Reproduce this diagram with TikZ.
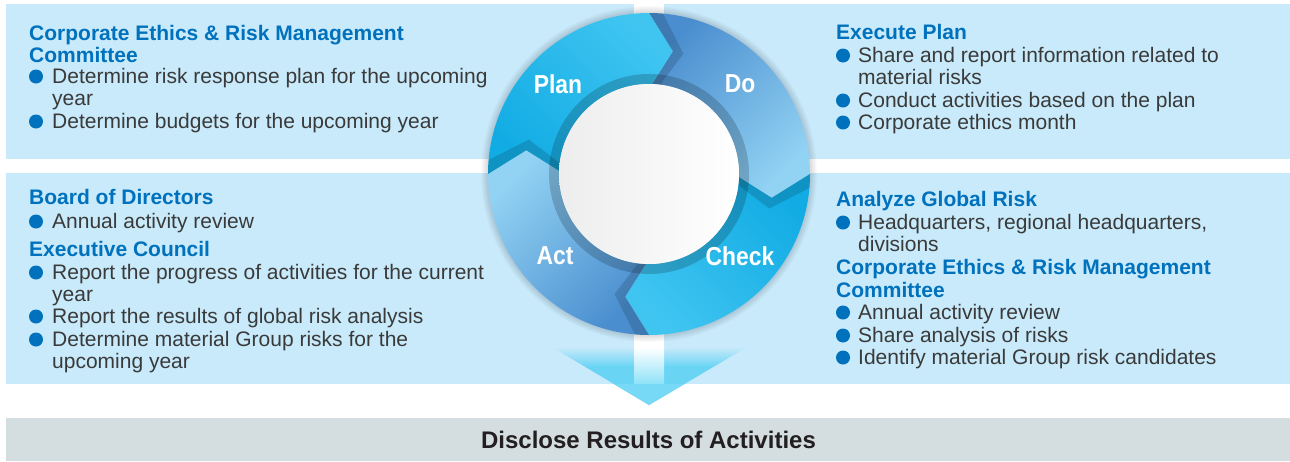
\documentclass[tikz,border=0pt]{standalone}
\usepackage{graphicx}
\usepackage{fontspec}
\setmainfont{Liberation Sans}
\usetikzlibrary{calc}
\definecolor{boxC}{HTML}{C8EAFA}
\definecolor{headC}{HTML}{0071BC}
\definecolor{bodyC}{HTML}{3A3A3A}
\definecolor{barC}{HTML}{D4DDE0}
\definecolor{arrC}{HTML}{6AD4F5}
\definecolor{arrL}{HTML}{8EE2F8}
\definecolor{arrLow}{HTML}{78D9F6}
\definecolor{cyanD}{HTML}{12ACE4}
\definecolor{cyanL}{HTML}{40C5F1}
\definecolor{blueD}{HTML}{4A8ECF}
\definecolor{blueL}{HTML}{92D2F3}
\definecolor{titleC}{HTML}{231F20}
\pgfdeclareverticalshading{arrsh}{100bp}{color(0bp)=(arrC); color(25bp)=(arrC); color(58bp)=(arrC); color(75bp)=(boxC); color(100bp)=(boxC)}
\tikzset{
  panel/.style={fill=boxC, draw=none},
  head/.style={anchor=base west, inner sep=0pt, font=\fontsize{21}{25}\selectfont\bfseries, text=headC},
  body/.style={anchor=base west, inner sep=0pt, font=\fontsize{21}{25}\selectfont, text=bodyC},
  dot/.style={circle, fill=headC, minimum size=14pt, inner sep=0pt},
  phase/.style={font=\fontsize{26}{30}\selectfont\bfseries, text=white, inner sep=0pt},
}
\newcommand\lbul[3]{\node[dot] (d#1) at (36,#2-6.5) {}; \node[body] (t#1) at (52,#2) {#3};}
\newcommand\rbul[3]{\node[dot] (d#1) at (843,#2-6.5) {}; \node[body] (t#1) at (858,#2) {#3};}
\newcommand\ringseg[3]{\shade[#3] (#1:161pt) arc[start angle=#1, end angle=#2, radius=161pt] -- (#2-11:125pt) -- (#2-2:90pt) arc[start angle=#2-2, end angle=#1-2, radius=90pt] -- (#1-11:125pt) -- cycle;}
\newcommand\ringshd[1]{\fill[black, opacity=0.14] (#1:161pt) -- (#1-11:125pt) -- (#1-2:90pt) arc[start angle=#1-2, end angle=#1-7, radius=90pt] -- (#1-16:125pt) -- (#1-5:161pt) arc[start angle=#1-5, end angle=#1, radius=161pt] -- cycle;}
\begin{document}
\begin{tikzpicture}[x=1pt, y=-1pt]
\useasboundingbox (0,0) rectangle (1290,461);
\fill[white] (0,0) rectangle (1290,461);
% panels
\fill[panel] (6,4) rectangle (634,159);
\fill[panel] (664,4) rectangle (1290,159);
\fill[panel] (6,173) rectangle (634,384);
\fill[panel] (664,173) rectangle (1290,384);
\fill[barC] (6,418) rectangle (1290,461);
% arrow
\coordinate (arrL1) at (552,347);
\coordinate (arrR1) at (747,347);
\coordinate (arrTip) at (649,405);
\shade[shading=arrsh] (arrL1) -- (arrR1) -- (arrTip) -- cycle;
\begin{scope}
\clip (arrL1) -- (arrR1) -- (arrTip) -- cycle;
\shade[top color=white, bottom color=arrL] (634,347) rectangle (664,384);
\fill[arrLow] (540,384) rectangle (760,410);
\end{scope}
% ring
\begin{scope}[shift={(649,174)}]
\foreach \k in {1,...,7} \fill[black, opacity=0.02] (0,0) circle[radius={(161+\k)*1pt}];
\ringseg{90}{0}{top color=blueL, middle color=blueD, bottom color=blueD, shading angle=-135}
\ringseg{0}{-90}{top color=cyanL, middle color=cyanL, bottom color=cyanD, shading angle=135}
\ringseg{-90}{-180}{top color=blueL, middle color=blueD, bottom color=blueD, shading angle=45}
\ringseg{180}{90}{top color=cyanL, middle color=cyanL, bottom color=cyanD, shading angle=-45}
\ringshd{90}
\ringshd{0}
\ringshd{-90}
\ringshd{180}
\fill[black, opacity=0.18, even odd rule] (0,0) circle[radius=100pt] circle[radius=90pt];
\shade[left color=black!7, right color=white] (0,0) circle[radius=90pt];
\end{scope}
\node[phase] (plan) at (558,84) {\scalebox{0.88}[1]{Plan}};
\node[phase] (do) at (740,84) {\scalebox{0.88}[1]{Do}};
\node[phase] (act) at (555,256) {\scalebox{0.88}[1]{Act}};
\node[phase] (check) at (740,256) {\scalebox{0.88}[1]{Check}};
% top-left
\node[head] (h1) at (29,40) {Corporate Ethics \& Risk Management};
\node[head] (h2) at (29,62) {Committee};
\lbul{a1}{83}{Determine risk response plan for the upcoming}
\node[body] (ca1) at (52,105.5) {year};
\lbul{a2}{128}{Determine budgets for the upcoming year}
% top-right
\node[head] (h3) at (836,39.5) {Execute Plan};
\rbul{b1}{62}{Share and report information related to}
\node[body] (cb1) at (858,84) {material risks};
\rbul{b2}{107}{Conduct activities based on the plan}
\rbul{b3}{129}{Corporate ethics month}
% bottom-left
\node[head] (h4) at (29,204) {Board of Directors};
\lbul{c1}{228}{Annual activity review}
\node[head] (h5) at (29,256) {Executive Council};
\lbul{c2}{279}{Report the progress of activities for the current}
\node[body] (cc2) at (52,301) {year};
\lbul{c3}{323}{Report the results of global risk analysis}
\lbul{c4}{346}{Determine material Group risks for the}
\node[body] (cc4) at (52,368) {upcoming year};
% bottom-right
\node[head] (h6) at (836,206) {Analyze Global Risk};
\rbul{e1}{229}{Headquarters, regional headquarters,}
\node[body] (ce1) at (858,251) {divisions};
\node[head] (h7) at (836,274) {Corporate Ethics \& Risk Management};
\node[head] (h8) at (836,297) {Committee};
\rbul{e2}{319}{Annual activity review}
\rbul{e3}{342}{Share analysis of risks}
\rbul{e4}{364}{Identify material Group risk candidates}
% bottom bar
\node[anchor=base, inner sep=0pt, font=\fontsize{24}{28}\selectfont\bfseries, text=titleC] (disc) at (648.5,448) {Disclose Results of Activities};
\end{tikzpicture}
\end{document}
